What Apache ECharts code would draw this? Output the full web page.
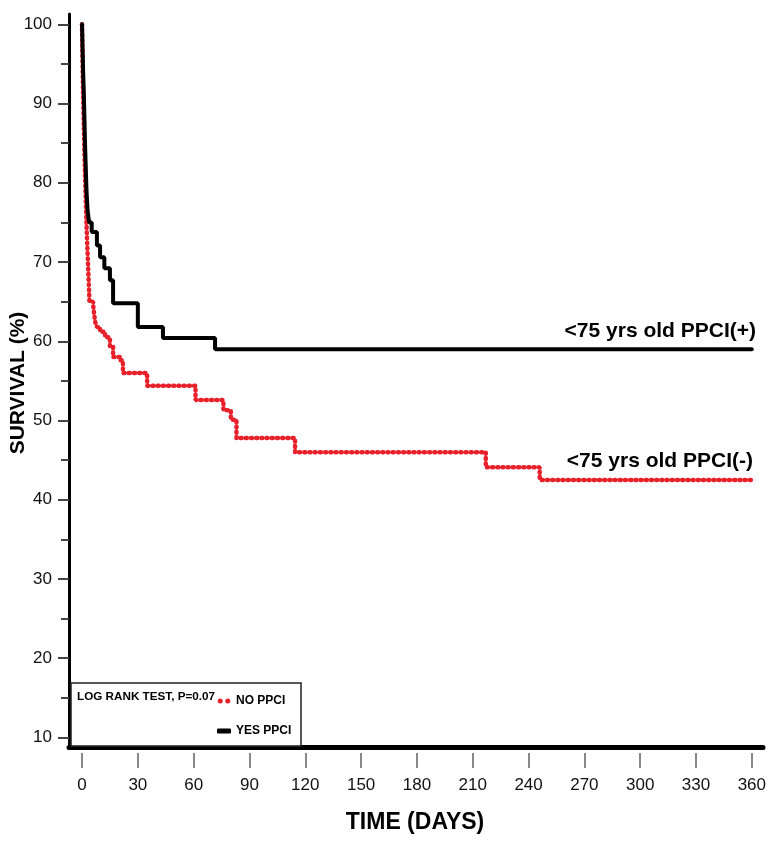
<!DOCTYPE html>
<html>
<head>
<meta charset="utf-8">
<script src="https://cdn.jsdelivr.net/npm/echarts@6/dist/echarts.min.js"></script>
<style>html,body{margin:0;padding:0;background:#fff;}#c{width:776px;height:843px;}</style>
</head>
<body>
<div id="c"></div>
<script>
// Data
var xTicks = [0, 30, 60, 90, 120, 150, 180, 210, 240, 270, 300, 330, 360];
var yTicks = [10, 20, 30, 40, 50, 60, 70, 80, 90, 100];
var yMinorTicks = [15, 25, 35, 45, 55, 65, 75, 85, 95];

var yesDays = [0, 0.3, 0.6, 1, 1.3, 1.6, 2, 2.4, 3, 3.8, 5.2, 8, 9.7, 12, 15, 16.7, 30, 43.5, 71.5, 360];
var yesSurv = [100, 97, 94, 91, 88, 85, 82, 79, 76.5, 75, 73.8, 72.1, 70.6, 69.2, 67.7, 64.8, 61.8, 60.4, 59.0, 59.0];

var noDays = [0, 0.3, 0.6, 1, 1.3, 1.6, 2, 2.5, 3, 3.5, 4, 6, 7, 8, 9.7, 12.4, 15, 16.7, 20.4, 22, 35, 61, 76, 80, 83, 114.5, 217, 246, 360];
var noSurv = [100, 95, 91, 87, 84, 81, 78, 74, 71, 68, 65, 64.5, 62.5, 61.8, 61.2, 60.5, 59.3, 58, 57.6, 56, 54.4, 52.6, 51.3, 50.1, 47.8, 46, 44.1, 42.5, 42.5];

function pairs(xs, ys) { return xs.map(function (x, i) { return [x, ys[i]]; }); }

var FONT = 'Liberation Sans, Arial, sans-serif';
var RED = '#e8202a';
var chart = echarts.init(document.getElementById('c'), null, {renderer: 'canvas'});
var XMIN = -7, XMAX = 366, YMIN = 8.8, YMAX = 101.3;

chart.setOption({
  backgroundColor: '#fff',
  animation: false,
  grid: {left: 69, top: 14, width: 694, height: 733, containLabel: false, outerBoundsMode: 'none'},
  xAxis: [
    {
      type: 'value', min: XMIN, max: XMAX, position: 'bottom',
      axisLine: {show: true, onZero: false, lineStyle: {color: '#000', width: 5}},
      axisTick: {show: false}, axisLabel: {show: false}, splitLine: {show: false}
    },
    {
      type: 'value', min: XMIN, max: XMAX, position: 'bottom', offset: 6,
      axisLine: {show: false, onZero: false},
      axisTick: {show: true, customValues: xTicks, length: 15, lineStyle: {color: '#888', width: 2}},
      axisLabel: {show: true, customValues: xTicks, margin: 24, fontFamily: FONT, fontSize: 17, color: '#111'},
      splitLine: {show: false}
    }
  ],
  yAxis: [
    {
      type: 'value', min: YMIN, max: YMAX,
      axisLine: {show: true, onZero: false, lineStyle: {color: '#000', width: 3}},
      axisTick: {show: true, customValues: yTicks, length: 11, lineStyle: {color: '#444', width: 2}},
      axisLabel: {show: true, customValues: yTicks, margin: 17, fontFamily: FONT, fontSize: 17, color: '#111'},
      splitLine: {show: false}
    },
    {
      type: 'value', min: YMIN, max: YMAX, position: 'left',
      axisLine: {show: false, onZero: false},
      axisTick: {show: true, customValues: yMinorTicks, length: 8, lineStyle: {color: '#444', width: 2}},
      axisLabel: {show: false}, splitLine: {show: false}
    }
  ],
  legend: {
    orient: 'vertical', left: 212, top: 690, itemGap: 18, itemWidth: 14, itemHeight: 5,
    data: [
      {name: 'NO PPCI', icon: 'path://M0,2a2,2 0 1,0 4,0a2,2 0 1,0 -4,0M6,2a2,2 0 1,0 4,0a2,2 0 1,0 -4,0', itemStyle: {color: RED}},
      {name: 'YES PPCI', icon: 'roundRect', itemStyle: {color: '#000'}}
    ],
    textStyle: {fontFamily: FONT, fontWeight: 'bold', fontSize: 12, color: '#000'},
    z: 10
  },
  graphic: [
    {type: 'rect', z: 1, shape: {x: 71, y: 683, width: 230, height: 63},
     style: {fill: '#fff', stroke: '#222', lineWidth: 1.5}},
    {type: 'text', z: 5, x: 77, y: 697,
     style: {text: 'LOG RANK TEST, P=0.07', fontFamily: FONT, fontWeight: 'bold', fontSize: 11.7, fill: '#000', verticalAlign: 'middle', align: 'left'}},
    {type: 'text', z: 5, x: 756, y: 331,
     style: {text: '<75 yrs old PPCI(+)', fontFamily: FONT, fontWeight: 'bold', fontSize: 21, fill: '#000', verticalAlign: 'middle', align: 'right'}},
    {type: 'text', z: 5, x: 753, y: 461,
     style: {text: '<75 yrs old PPCI(-)', fontFamily: FONT, fontWeight: 'bold', fontSize: 21, fill: '#000', verticalAlign: 'middle', align: 'right'}},
    {type: 'text', z: 5, x: 18, y: 383, rotation: Math.PI / 2,
     style: {text: 'SURVIVAL (%)', fontFamily: FONT, fontWeight: 'bold', fontSize: 21, fill: '#000', verticalAlign: 'middle', align: 'center'}},
    {type: 'text', z: 5, x: 415, y: 823,
     style: {text: 'TIME (DAYS)', fontFamily: FONT, fontWeight: 'bold', fontSize: 23, fill: '#000', verticalAlign: 'middle', align: 'center'}}
  ],
  series: [
    {
      name: 'NO PPCI', type: 'line', step: 'end', symbol: 'none', xAxisIndex: 0, yAxisIndex: 0,
      data: pairs(noDays, noSurv),
      lineStyle: {color: RED, width: 4.5, type: [1, 4.2], cap: 'round'},
      itemStyle: {color: RED}, z: 3
    },
    {
      name: 'YES PPCI', type: 'line', step: 'end', symbol: 'none', xAxisIndex: 0, yAxisIndex: 0,
      data: pairs(yesDays, yesSurv),
      lineStyle: {color: '#000', width: 4, cap: 'round'},
      itemStyle: {color: '#000'}, z: 4
    }
  ]
});
</script>
</body>
</html>
